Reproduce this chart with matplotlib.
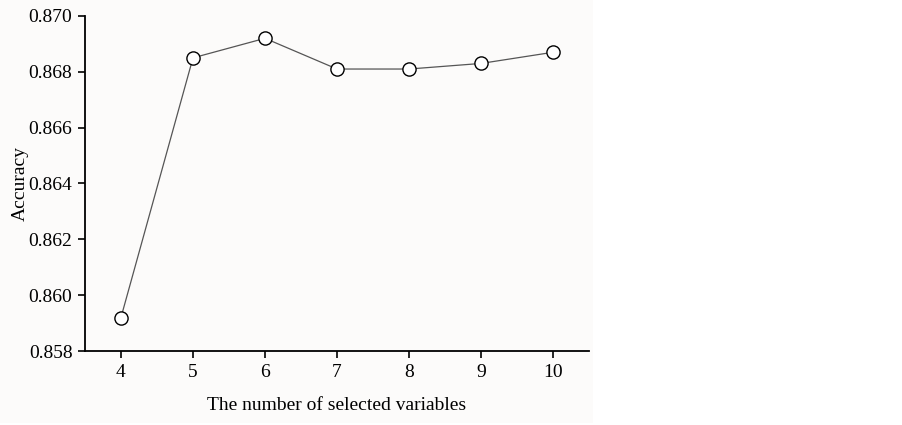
import matplotlib.pyplot as plt
from matplotlib.patches import Rectangle

# number of selected variables vs. accuracy
n_vars = [4, 5, 6, 7, 8, 9, 10]
accuracy = [0.8592, 0.8685, 0.8692, 0.8681, 0.8681, 0.8683, 0.8687]
y_ticks = [0.858, 0.860, 0.862, 0.864, 0.866, 0.868, 0.870]

plt.rcParams['font.family'] = ['Liberation Serif', 'DejaVu Serif']

fig = plt.figure(figsize=(9.03, 4.25), dpi=100)
fig.patch.set_facecolor('white')
# light off-white panel behind the chart
fig.patches.append(Rectangle((0, 0.005), 0.657, 0.995, transform=fig.transFigure,
                             facecolor='#fcfbfa', edgecolor='none', zorder=-10))

ax = fig.add_axes([0.0941, 0.1741, 0.5582, 0.7883])
ax.set_facecolor('none')

ax.plot(n_vars, accuracy, color='#555555', linewidth=0.9, marker='o',
        markersize=9.5, markerfacecolor='white', markeredgecolor='black',
        markeredgewidth=1.0, clip_on=False)

ax.set_xlim(3.5, 10.5)
ax.set_ylim(0.858, 0.870)
ax.set_xticks(n_vars)
ax.set_yticks(y_ticks)
ax.set_yticklabels([f'{v:.3f}' for v in y_ticks])

ax.spines['top'].set_visible(False)
ax.spines['right'].set_visible(False)
for s in ['left', 'bottom']:
    ax.spines[s].set_linewidth(1.3)
ax.tick_params(axis='both', direction='out', length=5, width=1.2,
               labelsize=14, pad=4)

ax.set_xlabel('The number of selected variables', fontsize=14, labelpad=12)
ax.set_ylabel('Accuracy', fontsize=14, labelpad=0)

fig.savefig('out.png', dpi=100)
